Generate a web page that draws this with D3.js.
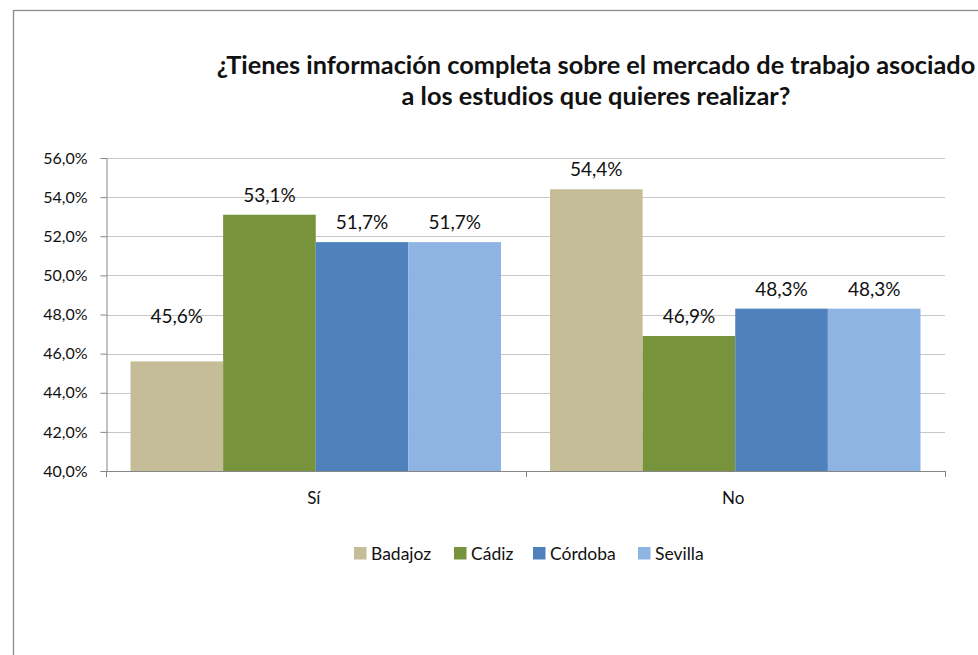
<!DOCTYPE html>
<html>
<head>
<meta charset="utf-8">
<script src="https://cdn.jsdelivr.net/npm/d3@7/dist/d3.min.js"></script>
<style>
  html, body { margin: 0; padding: 0; background: #fff; }
  svg { display: block; font-family: Lato, "Open Sans", sans-serif; }
</style>
</head>
<body>
<svg id="chart" width="978" height="655"></svg>
<script>
const titleLines = ["¿Tienes información completa sobre el mercado de trabajo asociado", "a los estudios que quieres realizar?"];
const categories = ["Sí", "No"];
const seriesNames = ["Badajoz", "Cádiz", "Córdoba", "Sevilla"];
const seriesColors = ["#C4BD97", "#77933C", "#4F81BD", "#8EB4E3"];
const badajoz = [45.6, 54.4];
const cadiz = [53.1, 46.9];
const cordoba = [51.7, 48.3];
const sevilla = [51.7, 48.3];
const yTicks = [40, 42, 44, 46, 48, 50, 52, 54, 56];

const seriesValues = [badajoz, cadiz, cordoba, sevilla];
const fmt = v => d3.format(".1f")(v).replace(".", ",") + "%";

const svg = d3.select("#chart");

// outer frame
svg.append("rect").attr("x", 13.5).attr("y", 10.5).attr("width", 1100).attr("height", 800)
  .attr("fill", "#fff").attr("stroke", "#8c8c8c").attr("stroke-width", 1.3);

const plot = { left: 106, right: 945, top: 158, bottom: 471 };

const y = d3.scaleLinear().domain([40, 56]).range([plot.bottom, plot.top]);
const x0 = d3.scaleBand().domain(categories).range([plot.left, plot.right]).padding(0);
const gapRatio = 0.1168;
const x1 = d3.scaleBand().domain(seriesNames)
  .range([x0.bandwidth() * gapRatio / 2, x0.bandwidth() * (1 - gapRatio / 2)]).padding(0);

// gridlines
svg.append("g").selectAll("line").data(yTicks.filter(t => t > 40)).join("line")
  .attr("x1", plot.left).attr("x2", plot.right)
  .attr("y1", d => Math.round(y(d)) + 0.5).attr("y2", d => Math.round(y(d)) + 0.5)
  .attr("stroke", "#c6c6c6").attr("stroke-width", 1);

// bars
const groups = svg.append("g").selectAll("g").data(categories).join("g")
  .attr("transform", c => `translate(${x0(c)},0)`);
groups.selectAll("rect").data((c, ci) => seriesNames.map((s, si) => ({ c, s, si, v: seriesValues[si][ci] })))
  .join("rect")
  .attr("x", d => x1(d.s)).attr("width", x1.bandwidth())
  .attr("y", d => y(d.v)).attr("height", d => y(40) - y(d.v))
  .attr("fill", d => seriesColors[d.si]);

// data labels
const labelLift = { "Sí|Badajoz": 25 };
groups.selectAll("text").data((c, ci) => seriesNames.map((s, si) => ({ c, s, si, v: seriesValues[si][ci] })))
  .join("text")
  .attr("x", d => x1(d.s) + x1.bandwidth() / 2)
  .attr("y", d => y(d.v) - 13 - (labelLift[d.c + "|" + d.s] || 0))
  .attr("text-anchor", "middle").attr("font-size", 19).attr("fill", "#111")
  .text(d => fmt(d.v));

// y axis
const yAxis = d3.axisLeft(y).tickValues(yTicks).tickSize(6).tickPadding(13).tickFormat(fmt);
const gy = svg.append("g").attr("transform", `translate(${plot.left + 0.5},0)`).call(yAxis);
gy.select(".domain").attr("stroke", "#868686");
gy.selectAll(".tick line").attr("stroke", "#868686");
gy.selectAll(".tick text").attr("font-size", 16).attr("fill", "#111").attr("font-family", "Lato, sans-serif");

// x axis
svg.append("line").attr("x1", plot.left).attr("x2", plot.right)
  .attr("y1", plot.bottom + 0.5).attr("y2", plot.bottom + 0.5).attr("stroke", "#868686");
const bounds = [plot.left, ...categories.map(c => x0(c) + x0.bandwidth())];
svg.append("g").selectAll("line").data(bounds).join("line")
  .attr("x1", d => Math.round(d) + 0.5).attr("x2", d => Math.round(d) + 0.5)
  .attr("y1", plot.bottom).attr("y2", plot.bottom + 6).attr("stroke", "#868686");
svg.append("g").selectAll("text").data(categories).join("text")
  .attr("x", c => x0(c) + x0.bandwidth() / 2 - 2).attr("y", 504)
  .attr("text-anchor", "middle").attr("font-size", 17).attr("fill", "#111")
  .text(c => c);

// title
const title = svg.append("g");
const t1 = title.append("text").attr("x", 596).attr("y", 74).attr("text-anchor", "middle")
  .attr("font-weight", "bold").attr("font-size", 21).attr("fill", "#111").text(titleLines[0]);
const w1 = t1.node().getComputedTextLength();
const fs = 21 * 759 / w1;
t1.attr("font-size", fs);
title.append("text").attr("x", 596).attr("y", 105).attr("text-anchor", "middle")
  .attr("font-weight", "bold").attr("font-size", fs).attr("fill", "#111").text(titleLines[1]);

// legend
const legendX = [354, 454, 533, 638];
const lg = svg.append("g").selectAll("g").data(seriesNames).join("g")
  .attr("transform", (d, i) => `translate(${legendX[i]},547)`);
lg.append("rect").attr("width", 12.5).attr("height", 12.5).attr("fill", (d, i) => seriesColors[i]);
lg.append("text").attr("x", 17).attr("y", 12.5).attr("font-size", 17.5).attr("fill", "#111").text(d => d);
</script>
</body>
</html>
